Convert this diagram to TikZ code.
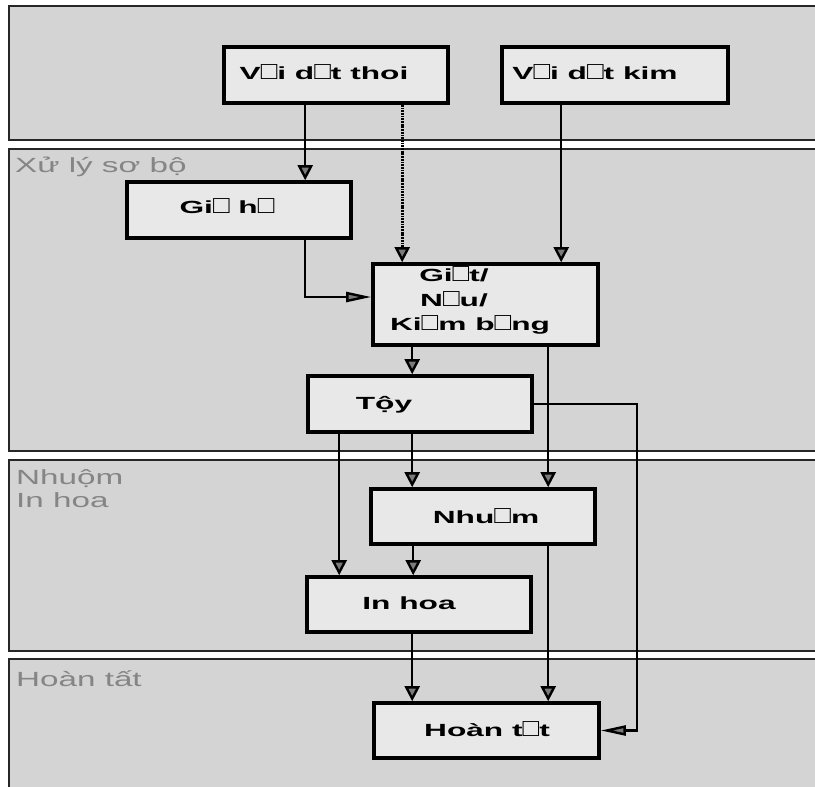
\documentclass[tikz,border=0pt]{standalone}
\usepackage{fontspec}
\usetikzlibrary{arrows.meta,calc}
\newfontfamily\boxfont[FakeStretch=1.8]{Liberation Sans}
\newfontfamily\sqfont[FakeStretch=1.1]{Liberation Sans}
\newfontfamily\lblfont[FakeStretch=1.62]{Liberation Sans}
\newcommand\missglyph{\smash{\sqfont\mdseries\fontsize{25}{18}\selectfont □}}
\definecolor{bandfill}{HTML}{D4D4D4}
\definecolor{boxfill}{HTML}{E8E8E8}
\definecolor{lblgray}{HTML}{858585}
\definecolor{tipgray}{HTML}{7A7A7A}
\begin{document}
\begin{tikzpicture}[x=1pt,y=-1pt,
  band/.style={draw=black!85,line width=2pt,fill=bandfill},
  procbox/.style={draw=black,line width=3.6pt,fill=boxfill,rectangle,inner sep=0pt},
  boxtext/.style={anchor=base,inner sep=0pt,font=\boxfont\bfseries\fontsize{17.6}{18}\selectfont},
  lbl/.style={anchor=base west,inner sep=0pt,text=lblgray,font=\lblfont\fontsize{20.5}{23}\selectfont},
  conn/.style={draw=black,line width=2.4pt},
  varr/.style={conn,-{Triangle[length=15pt,width=15pt,fill=tipgray]}},
  harr/.style={conn,-{Triangle[length=25pt,width=10pt,fill=tipgray]}},
  dotline/.style={draw=black,line width=3.4pt,dash pattern=on 1.8pt off 0.9pt}]

\useasboundingbox (0,0) rectangle (815,787);
\fill[white] (0,0) rectangle (815,787);
\clip (0,0) rectangle (815,787);

% bands
\draw[band] (9,6) rectangle (840,140);
\draw[band] (9,149) rectangle (840,451);
\draw[band] (9,460) rectangle (840,651);
\draw[band] (9,659) rectangle (840,800);

% band labels
\node[lbl] (lxuly) at (15,172) {Xử lý sơ bộ};
\node[lbl] (lnhuom) at (16,484) {Nhuộm};
\node[lbl] (linhoa) at (16,507) {In hoa};
\node[lbl] (lhoan) at (16,686) {Hoàn tất};

% process boxes
\node[procbox,minimum width=224pt,minimum height=56pt] (thoi) at (336,75) {};
\node[procbox,minimum width=226pt,minimum height=56pt] (kim) at (615,75) {};
\node[procbox,minimum width=224pt,minimum height=56pt] (giu) at (239,210) {};
\node[procbox,minimum width=225pt,minimum height=81pt] (giat) at (485.5,304.5) {};
\node[procbox,minimum width=224pt,minimum height=56pt] (tay) at (420,404) {};
\node[procbox,minimum width=224pt,minimum height=55pt] (nhuom) at (483,516.5) {};
\node[procbox,minimum width=224pt,minimum height=55pt] (inhoa) at (419,604.5) {};
\node[procbox,minimum width=225pt,minimum height=55pt] (hoan) at (486.5,730.5) {};

% box texts
\node[boxtext] (tthoi) at (324,79) {V\missglyph i d\missglyph t thoi};
\node[boxtext] (tkim) at (595,79) {V\missglyph i d\missglyph t kim};
\node[boxtext] (tgiu) at (227,213) {Gi\missglyph{} h\missglyph};
\node[boxtext] (tgiat1) at (454,281) {Gi\missglyph t/};
\node[boxtext] (tgiat2) at (454,306) {N\missglyph u/};
\node[boxtext] (tgiat3) at (470,330) {Ki\missglyph m b\missglyph ng};
\node[boxtext] (ttay) at (384,409) {Tộy};
\node[boxtext] (tnhuom) at (486,523) {Nhu\missglyph m};
\node[boxtext] (tinhoa) at (409,609) {In hoa};
\node[boxtext] (thoan) at (487,736) {Hoàn t\missglyph t};

% connector anchor points
\coordinate (c1) at ([xshift=83pt]thoi.south west);
\coordinate (c2) at ([xshift=180pt]thoi.south west);
\coordinate (c3) at ([xshift=61pt]kim.south west);
\coordinate (c4) at ([xshift=180pt]giu.south west);
\coordinate (c5) at ([xshift=41pt]giat.south west);
\coordinate (c6) at ([xshift=177pt]giat.south west);
\coordinate (c7) at ([xshift=106pt]tay.south west);
\coordinate (c8) at ([xshift=33pt]tay.south west);
\coordinate (c9) at ([xshift=103pt]tay.east);
\coordinate (c10) at ([xshift=44pt]nhuom.south west);
\coordinate (c11) at ([xshift=179pt]nhuom.south west);
\coordinate (c12) at ([xshift=107pt]inhoa.south west);
\coordinate (g1) at ([yshift=7.5pt]giat.west);

% connectors
\draw[varr] (c1) -- (c1 |- giu.north);
\draw[dotline] (c2) -- ($(c2 |- giat.north)+(0,-6)$);
\draw[varr] ($(c2 |- giat.north)+(0,-16)$) -- (c2 |- giat.north);
\draw[varr] (c3) -- (c3 |- giat.north);
\draw[harr] (c4) |- (g1);
\draw[varr] (c5) -- (c5 |- tay.north);
\draw[varr] (c6) -- (c6 |- nhuom.north);
\draw[varr] (c7) -- (c7 |- nhuom.north);
\draw[varr] (c8) -- (c8 |- inhoa.north);
\draw[harr] (tay.east) -- (c9) |- (hoan.east);
\draw[varr] (c10) -- (c10 |- inhoa.north);
\draw[varr] (c11) -- (c11 |- hoan.north);
\draw[varr] (c12) -- (c12 |- hoan.north);
\end{tikzpicture}
\end{document}
